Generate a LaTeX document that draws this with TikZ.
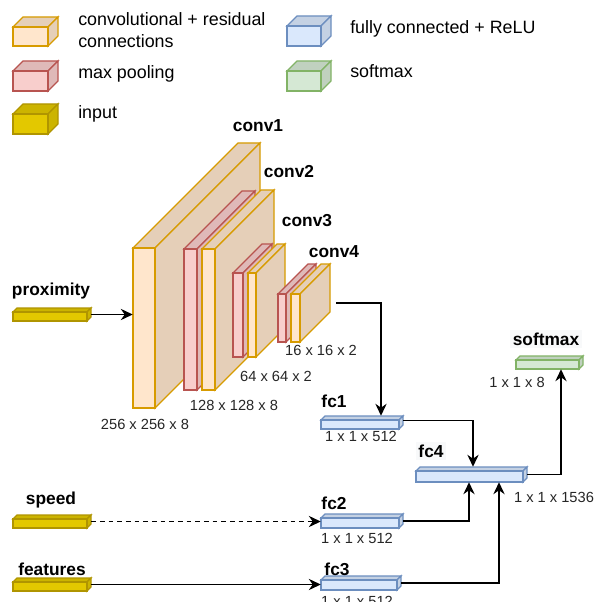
\documentclass[tikz,border=0pt]{standalone}
\usepackage{fontspec}
\setmainfont{Liberation Sans}
\usetikzlibrary{arrows.meta,fit,calc}

% face colours: F = front, D = shaded top/side, S = stroke
\definecolor{convF}{HTML}{FFE6CC}\definecolor{convS}{HTML}{D79B00}\colorlet{convD}{convF!90!black}
\definecolor{poolF}{HTML}{F8CECC}\definecolor{poolS}{HTML}{B85450}\colorlet{poolD}{poolF!90!black}
\definecolor{inF}{HTML}{E3C800}\definecolor{inS}{HTML}{B09500}\colorlet{inD}{inF!90!black}
\definecolor{fcF}{HTML}{DAE8FC}\definecolor{fcS}{HTML}{6C8EBF}\colorlet{fcD}{fcF!90!black}
\definecolor{smF}{HTML}{D5E8D4}\definecolor{smS}{HTML}{82B366}\colorlet{smD}{smF!90!black}
\definecolor{lblbg}{HTML}{F8F9FA}

% a box seen in perspective: front face (x1,y1)-(x2,y2), receding by d
% #1 name, #2 colour prefix, #3 x1, #4 y1, #5 x2, #6 y2, #7 d
\newcommand\cubeblock[7]{%
  \filldraw[cubeedge, draw=#2S, fill=#2D] (#3,#4) -- ++(#7,-#7) -- (#5+#7,#4-#7) -- (#5,#4) -- cycle;
  \filldraw[cubeedge, draw=#2S, fill=#2D] (#5,#4) -- (#5+#7,#4-#7) -- (#5+#7,#6-#7) -- (#5,#6) -- cycle;
  \filldraw[cubeedge, draw=#2S, fill=#2F] (#3,#4) rectangle (#5,#6);
  \node[fit={(#3,#4-#7) (#5+#7,#6)}, inner sep=0pt] (#1) {};
}

\tikzset{
  cubeedge/.style={line width=1pt, line join=miter},
  legendtxt/.style={inner sep=0pt, anchor=base west, font=\fontsize{13.4pt}{16.5pt}\selectfont},
  title/.style={inner sep=0pt, anchor=base, font=\fontsize{13pt}{15pt}\selectfont\bfseries},
  dims/.style={inner sep=0pt, anchor=base, text=black!85, font=\fontsize{11pt}{13pt}\selectfont},
  link/.style={line width=1pt, -{Stealth[length=9pt,width=8.5pt,inset=3pt]}},
}

\begin{document}
\begin{tikzpicture}[x=0.75pt, y=-0.75pt]
\useasboundingbox[fill=white] (0,0) rectangle (595,602);

% legend
\cubeblock{lg-conv}{conv}{13}{27}{48}{46}{10}
\cubeblock{lg-pool}{pool}{13}{71}{48}{91}{10}
\cubeblock{lg-in}{in}{13}{114}{48}{134}{10}
\cubeblock{lg-fc}{fc}{287}{26}{321}{46}{10}
\cubeblock{lg-sm}{sm}{287}{71}{321}{91}{10}
\node[legendtxt, anchor=west, align=left] (lt-conv) at (78,30) {convolutional + residual\\connections};
\node[legendtxt] (lt-pool) at (78,79) {max pooling};
\node[legendtxt] (lt-in) at (78,119) {input};
\node[legendtxt] (lt-fc) at (350,34) {fully connected + ReLU};
\node[legendtxt] (lt-sm) at (350,78) {softmax};

% convolutional stages
\cubeblock{conv1}{conv}{133}{248}{155}{408}{105}
\cubeblock{pool1}{pool}{184}{249}{197}{390}{58}
\cubeblock{conv2}{conv}{202}{249}{215}{390}{59}
\cubeblock{pool2}{pool}{233}{273}{243}{357}{29}
\cubeblock{conv3}{conv}{248}{273}{256}{357}{29}
\cubeblock{pool3}{pool}{278}{294}{286}{342}{30}
\cubeblock{conv4}{conv}{291}{294}{300}{342}{30}

\node[title] (t-conv1) at (258,132) {conv1};
\node[title] (t-conv2) at (289,178) {conv2};
\node[title] (t-conv3) at (307,226) {conv3};
\node[title] (t-conv4) at (334,257) {conv4};
\node[dims] (d-conv1) at (145,429) {256 x 256 x 8};
\node[dims] (d-conv2) at (234,410) {128 x 128 x 8};
\node[dims] (d-conv3) at (276,381) {64 x 64 x 2};
\node[dims] (d-conv4) at (321,355) {16 x 16 x 2};

% inputs
\cubeblock{prox}{in}{13}{312}{87}{321}{4}
\cubeblock{speed}{in}{13}{519}{87}{528}{4}
\cubeblock{feat}{in}{13}{582}{87}{591}{4}
\node[title] (t-prox) at (51,295) {proximity};
\node[title] (t-speed) at (51,504) {speed};
\node[title] (t-feat) at (52,575) {features};

% fully connected layers
\cubeblock{fc1}{fc}{321}{420}{399}{429}{4}
\cubeblock{fc2}{fc}{321}{518}{399}{528}{4}
\cubeblock{fc3}{fc}{321}{580}{397}{590}{4}
\cubeblock{fc4}{fc}{416}{471}{523}{482}{4}
\cubeblock{sm}{sm}{516}{360}{579}{369}{4}

\node[title] (t-fc1) at (334,407) {fc1};
\node[title] (t-fc2) at (334,509) {fc2};
\node[title] (t-fc3) at (337,575) {fc3};
\node[title, fill=lblbg, inner sep=2pt] (t-fc4) at (431,457) {fc4};
\node[title, fill=lblbg, inner sep=2pt] (t-sm) at (546,345) {softmax};
\node[dims] (d-fc1) at (361,441) {1 x 1 x 512};
\node[dims] (d-fc2) at (357,543) {1 x 1 x 512};
\node[dims] (d-fc3) at (357,606) {1 x 1 x 512};
\node[dims] (d-fc4) at (554,502) {1 x 1 x 1536};
\node[dims] (d-sm) at (517,387) {1 x 1 x 8};

% connections
\draw[link] (prox.east) -- (conv1.west |- prox.east);
\draw[link] ($(conv4.east)+(6,0)$) -| ($(fc1.north)+(19,0)$);
\draw[link] ($(fc1.east)+(0,-2)$) -| ($(fc4.north)+(1.5,0)$);
\draw[link] ($(fc4.east)+(0,0)$) -| ($(sm.south)+(11.5,0)$);
\draw[link, dash pattern=on 3.5pt off 3pt] (speed.east) -- (fc2.west |- speed.east);
\draw[link] (feat.east) -- (fc3.west |- feat.east);
\draw[link] (fc2.east) -| ($(fc4.south)+(-2.5,0)$);
\draw[link] (fc3.east) -| ($(fc4.south)+(27.5,0)$);
\end{tikzpicture}
\end{document}
